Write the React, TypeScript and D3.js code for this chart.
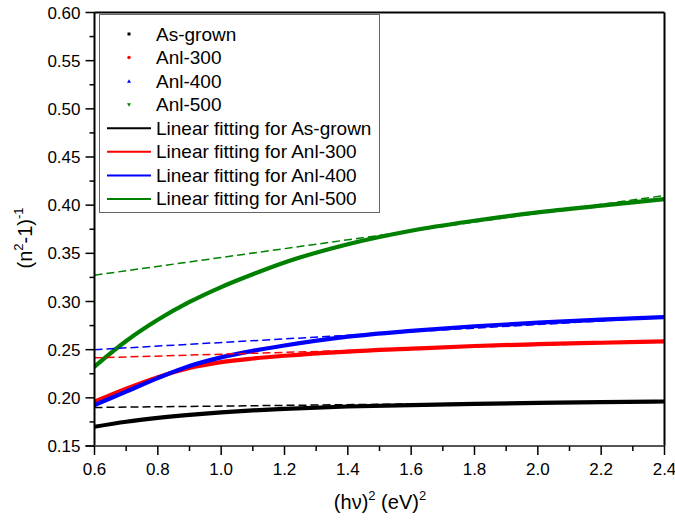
import React from "react";
import * as d3 from "d3";

const xVals = [0.6, 0.7, 0.8, 0.9, 1.0, 1.1, 1.2, 1.4, 1.6, 1.8, 2.0, 2.2, 2.4];
const asGrown = [0.170, 0.1752, 0.1792, 0.1824, 0.1850, 0.1870, 0.1886, 0.1910, 0.1925, 0.1937, 0.1947, 0.1955, 0.1962];
const anl300 = [0.196, 0.2095, 0.2215, 0.2310, 0.2370, 0.2408, 0.2437, 0.2480, 0.2510, 0.2538, 0.2557, 0.2572, 0.2587];
const anl400 = [0.1925, 0.2065, 0.2205, 0.2330, 0.2420, 0.2488, 0.2543, 0.2635, 0.2695, 0.2743, 0.2780, 0.2812, 0.2838];
const anl500 = [0.2325, 0.2590, 0.2810, 0.2995, 0.3150, 0.3283, 0.3405, 0.3595, 0.3735, 0.3838, 0.3925, 0.3995, 0.4062];

// linear fits: [value at 0.6, value at 2.4]
const fitX = [0.6, 2.4];
const fitAsGrown = [0.190, 0.1965];
const fitAnl300 = [0.2415, 0.2585];
const fitAnl400 = [0.250, 0.2835];
const fitAnl500 = [0.3273, 0.4100];

const seriesNames = ["As-grown", "Anl-300", "Anl-400", "Anl-500"];
const seriesColors = ["#000000", "#ff0000", "#0000ff", "#008000"];
const xTicks = [0.6, 0.8, 1.0, 1.2, 1.4, 1.6, 1.8, 2.0, 2.2, 2.4];
const yTicks = [0.15, 0.2, 0.25, 0.3, 0.35, 0.4, 0.45, 0.5, 0.55, 0.6];

const W = 675, H = 521;
const L = 94.5, R = 664.5, T = 12.5, B = 446;
const FONT = "'Liberation Sans', Arial, sans-serif";

export default function App() {
  const x = d3.scaleLinear().domain([0.6, 2.4]).range([L, R]);
  const y = d3.scaleLinear().domain([0.15, 0.6]).range([B, T]);
  const line = d3
    .line<[number, number]>()
    .x((d) => x(d[0]))
    .y((d) => y(d[1]))
    .curve(d3.curveMonotoneX);
  const data = [asGrown, anl300, anl400, anl500];
  const fits = [fitAsGrown, fitAnl300, fitAnl400, fitAnl500];

  const xMinor = d3.range(6, 25).map((v) => v / 10);
  const yMinor = d3.range(0, 19).map((v) => 0.15 + v * 0.025);

  const rowBase = (i: number) => 40.5 + i * 23.57;
  const mx = 129;

  const marker = (i: number, cy: number) => {
    const c = seriesColors[i];
    if (i === 0) return <rect x={mx - 1.5} y={cy - 1.5} width={3} height={3} fill={c} />;
    if (i === 1) return <circle cx={mx} cy={cy} r={1.7} fill={c} />;
    if (i === 2) return <path d={`M${mx},${cy - 2} L${mx + 2},${cy + 1.5} L${mx - 2},${cy + 1.5} Z`} fill={c} />;
    return <path d={`M${mx},${cy + 2} L${mx + 2},${cy - 1.5} L${mx - 2},${cy - 1.5} Z`} fill={c} />;
  };

  return (
    <svg width={W} height={H} style={{ position: "absolute", left: 0, top: 0, background: "#fff" }} fontFamily={FONT}>
      <rect x={0} y={0} width={W} height={H} fill="#fff" />
      <defs>
        <clipPath id="clip">
          <rect x={L} y={T} width={R - L} height={B - T} />
        </clipPath>
      </defs>
      {/* data curves */}
      <g clipPath="url(#clip)">
        {data.map((vals, i) => (
          <path key={"d" + i} d={line(xVals.map((v, j) => [v, vals[j]] as [number, number])) || ""} fill="none" stroke={seriesColors[i]} strokeWidth={4.2} strokeLinecap="round" />
        ))}
        {fits.map((vals, i) => (
          <path key={"f" + i} d={line(fitX.map((v, j) => [v, vals[j]] as [number, number])) || ""} fill="none" stroke={seriesColors[i]} strokeWidth={1.5} strokeDasharray="8,4" />
        ))}
      </g>
      {/* frame */}
      <line x1={L} x2={R} y1={T} y2={T} stroke="#000" strokeWidth={2} />
      <line x1={R} x2={R} y1={T} y2={B} stroke="#000" strokeWidth={2} />
      <line x1={L} x2={L} y1={T} y2={B + 1} stroke="#000" strokeWidth={2} />
      <line x1={L - 9} x2={R} y1={B} y2={B} stroke="#555" strokeWidth={2} />
      {/* y ticks */}
      {yTicks.map((t) => (
        <g key={"yt" + t}>
          <line x1={L - 9} x2={L} y1={y(t)} y2={y(t)} stroke="#000" strokeWidth={1.5} />
          <text x={L - 14} y={y(t) + 6} textAnchor="end" fontSize={17} fill="#000">
            {t.toFixed(2)}
          </text>
        </g>
      ))}
      {yMinor.map((t, i) =>
        i % 2 === 1 ? <line key={"ym" + i} x1={L - 5} x2={L} y1={y(t)} y2={y(t)} stroke="#000" strokeWidth={1.5} /> : null
      )}
      {/* x ticks */}
      {xTicks.map((t) => (
        <g key={"xt" + t}>
          <line x1={x(t)} x2={x(t)} y1={B} y2={B + 9} stroke="#000" strokeWidth={1.5} />
          <text x={x(t)} y={475} textAnchor="middle" fontSize={17} fill="#000">
            {t.toFixed(1)}
          </text>
        </g>
      ))}
      {xMinor.map((t, i) =>
        i % 2 === 1 ? <line key={"xm" + i} x1={x(t)} x2={x(t)} y1={B} y2={B + 5} stroke="#000" strokeWidth={1.5} /> : null
      )}
      {/* axis titles */}
      <text x={380} y={509} textAnchor="middle" fontSize={20} fill="#000">
        (hν)<tspan fontSize={13} dy={-9}>2</tspan>
        <tspan dy={9}> (eV)</tspan>
        <tspan fontSize={13} dy={-9}>2</tspan>
      </text>
      <text transform="translate(32,238) rotate(-90)" textAnchor="middle" fontSize={20} fill="#000">
        (n<tspan fontSize={13} dy={-9}>2</tspan>
        <tspan dy={9}>-1)</tspan>
        <tspan fontSize={13} dy={-9}>-1</tspan>
      </text>
      {/* legend */}
      <rect x={99.5} y={14.5} width={280} height={198} fill="#fff" stroke="#666" strokeWidth={1} />
      {seriesNames.map((n, i) => (
        <g key={"lp" + i}>
          {marker(i, rowBase(i) - 6.5)}
          <text x={156} y={rowBase(i)} fontSize={19} fill="#000">
            {n}
          </text>
        </g>
      ))}
      {seriesNames.map((n, i) => (
        <g key={"ll" + i}>
          <line x1={107} x2={151} y1={rowBase(i + 4) - 6.5} y2={rowBase(i + 4) - 6.5} stroke={seriesColors[i]} strokeWidth={2} />
          <text x={156} y={rowBase(i + 4)} fontSize={19} fill="#000">
            {"Linear fitting for " + n}
          </text>
        </g>
      ))}
    </svg>
  );
}
